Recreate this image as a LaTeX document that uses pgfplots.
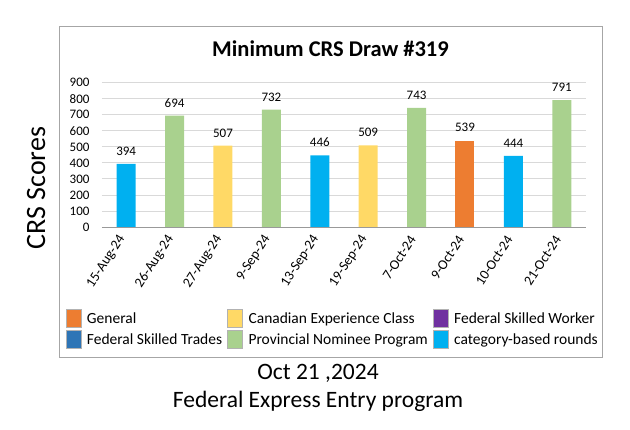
\documentclass[border=0pt]{standalone}
\usepackage{pgfplots}
\pgfplotsset{compat=1.18}
\usepackage{fontspec}
\setmainfont{Carlito}

\definecolor{cgeneral}{HTML}{ED7D31}
\definecolor{ccec}{HTML}{FFD966}
\definecolor{cfsw}{HTML}{7030A0}
\definecolor{cfst}{HTML}{2E75B6}
\definecolor{cpnp}{HTML}{A9D18E}
\definecolor{ccat}{HTML}{00B0F0}

\pgfplotsset{
  legsq/.style={legend image code/.code={\draw[fill=#1,draw=gray!60] (0pt,-9pt) rectangle (15pt,9pt);}},
  crsbar/.style={ybar, bar width=19pt, bar shift=0pt, draw=none, fill=#1, legsq=#1},
}

\begin{document}
\begin{tikzpicture}
\useasboundingbox (0pt,0pt) rectangle (630pt,430pt);
\draw[gray!70, line width=1pt] (59pt,72pt) rectangle (602.5pt,403pt);

\node[font=\fontsize{22.5}{26}\selectfont\bfseries, anchor=base] at (330.5pt,373.3pt) {Minimum CRS Draw \#319};
\node[font=\fontsize{28}{32}\selectfont, rotate=90, anchor=base] at (45pt,242pt) {CRS Scores};
\node[font=\fontsize{23.5}{27}\selectfont, anchor=base] at (318pt,50pt) {Oct 21 ,2024};
\node[font=\fontsize{23.5}{27}\selectfont, anchor=base] at (318pt,22pt) {Federal Express Entry program};

\begin{axis}[
    at={(102pt,203pt)}, anchor=south west,
    scale only axis, width=484pt, height=144.3pt,
    xmin=-0.5, xmax=9.5, ymin=0, ymax=900,
    ytick={0,100,...,900},
    xtick={0,...,9},
    xticklabels={15-Aug-24,26-Aug-24,27-Aug-24,9-Sep-24,13-Sep-24,19-Sep-24,7-Oct-24,9-Oct-24,10-Oct-24,21-Oct-24},
    /pgf/number format/assume math mode=true,
    axis lines*=left,
    y axis line style={draw=none},
    x axis line style={draw=gray!80, line width=0.8pt},
    tick style={draw=none},
    ymajorgrids, grid style={draw=gray!30, line width=0.8pt},
    yticklabel style={font=\fontsize{13}{14}\selectfont, xshift=-9pt},
    xticklabel style={font=\fontsize{14}{15}\selectfont, yshift=-7pt, xshift=-2pt, rotate=57, anchor=east},
    nodes near coords,
    nodes near coords style={font=\fontsize{13}{14}\selectfont, text=black, yshift=5pt},
    legend columns=3,
    legend cell align=left,
    legend style={at={(-0.082,-0.555)}, anchor=north west, draw=none, fill=none,
      font=\fontsize{15.5}{17}\selectfont, row sep=2.5pt,
      /tikz/every odd column/.append style={column sep=4pt},
      /tikz/every even column/.append style={column sep=3pt}},
]
\addplot[crsbar=cgeneral] coordinates {(7,539)};
\addlegendentry{General}
\addplot[crsbar=ccec] coordinates {(2,507) (5,509)};
\addlegendentry{Canadian Experience Class}
\addlegendimage{legsq=cfsw}
\addlegendentry{Federal Skilled Worker}
\addlegendimage{legsq=cfst}
\addlegendentry{Federal Skilled Trades}
\addplot[crsbar=cpnp] coordinates {(1,694) (3,732) (6,743) (9,791)};
\addlegendentry{Provincial Nominee Program}
\addplot[crsbar=ccat] coordinates {(0,394) (4,446) (8,444)};
\addlegendentry{category-based rounds}
\end{axis}
\end{tikzpicture}
\end{document}
